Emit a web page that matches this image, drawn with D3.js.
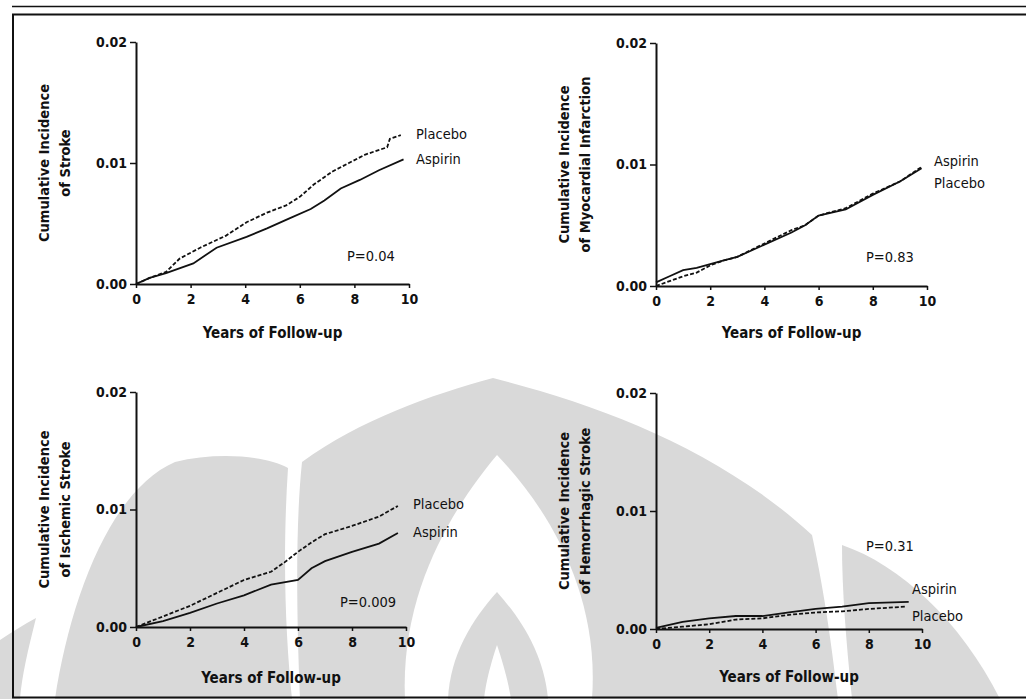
<!DOCTYPE html>
<html>
<head>
<meta charset="utf-8">
<script src="https://cdn.jsdelivr.net/npm/d3@7.9.0/dist/d3.min.js"></script>
<style>
  html, body { margin: 0; padding: 0; background: #fff; }
  svg { display: block; }
  text { font-family: "DejaVu Sans Condensed", "Liberation Sans", sans-serif; fill: #111; }
  .tick text { font-size: 14px; font-weight: bold; }
  .axis-title { font-size: 15px; font-weight: bold; }
  .y-title { font-size: 14.5px; font-weight: bold; }
  .series-label, .p-label { font-size: 14.5px; }
</style>
</head>
<body>
<svg id="chart" width="1026" height="699"></svg>
<script>
// ---- data (years, cumulative incidence) ----
const strokePlacebo = [[0,0],[0.5,0.0005],[1.1,0.0010],[1.6,0.0021],[2.35,0.0030],[3.3,0.0040],[4.05,0.0051],[4.8,0.0059],[5.5,0.0065],[6.0,0.0072],[6.5,0.0082],[7.2,0.0093],[7.8,0.0100],[8.4,0.0107],[9.2,0.0113],[9.3,0.0120],[9.7,0.0123]];
const strokeAspirin = [[0,0],[0.5,0.0005],[1.1,0.0009],[2.1,0.0017],[2.95,0.0030],[4.05,0.0039],[4.8,0.0046],[5.6,0.0054],[6.4,0.0062],[6.9,0.0069],[7.5,0.0079],[8.2,0.0086],[8.9,0.0094],[9.8,0.0103]];

const miAspirin = [[0,0.0003],[0.5,0.0008],[1,0.0013],[1.5,0.0015],[2,0.0018],[2.5,0.0021],[3,0.0024],[4,0.0034],[5,0.0044],[5.5,0.0050],[6,0.0058],[7,0.0063],[8,0.0075],[9,0.0086],[9.8,0.0097]];
const miPlacebo = [[0,0],[0.5,0.0004],[1,0.0008],[1.5,0.0011],[2,0.0017],[2.5,0.0021],[3,0.0024],[4,0.0035],[5,0.0046],[5.5,0.0050],[6,0.0058],[7,0.0064],[8,0.0076],[9,0.0086],[9.8,0.0098]];

const ischPlacebo = [[0,0],[1,0.0009],[2,0.0018],[3,0.0029],[4,0.0040],[5,0.0047],[5.5,0.0055],[6,0.0064],[6.5,0.0072],[7,0.0079],[8,0.0086],[9,0.0094],[9.7,0.0103]];
const ischAspirin = [[0,0],[1,0.0005],[2,0.0012],[3,0.0020],[4,0.0027],[5,0.0036],[6,0.0040],[6.5,0.0050],[7,0.0056],[8,0.0064],[9,0.0071],[9.7,0.0080]];

const hemAspirin = [[0,0.0001],[1,0.0006],[2,0.0009],[3,0.0011],[4,0.0011],[5,0.0014],[6,0.0017],[7,0.0019],[8,0.0022],[9.5,0.0023]];
const hemPlacebo = [[0,0],[1,0.0002],[2,0.0004],[3,0.0008],[4,0.0009],[5,0.0012],[6,0.0014],[7,0.0015],[8,0.0017],[9.4,0.0019]];

const xTicks = [0, 2, 4, 6, 8, 10];
const yTicks = [0, 0.01, 0.02];
const yTickLabels = ['0.00', '0.01', '0.02'];
const xTitle = 'Years of Follow-up';

const yTitles = [
  ['Cumulative Incidence', 'of Stroke'],
  ['Cumulative Incidence', 'of Myocardial Infarction'],
  ['Cumulative Incidence', 'of Ischemic Stroke'],
  ['Cumulative Incidence', 'of Hemorrhagic Stroke']
];
const pValues = ['P=0.04', 'P=0.83', 'P=0.009', 'P=0.31'];

// layout of the four panels (pixel boxes, label spots)
const panels = [
  { x0: 136, x1: 409, y0: 284, y1: 42, placebo: strokePlacebo, aspirin: strokeAspirin,
    labels: [['Placebo', 416, 135], ['Aspirin', 416, 160]], p: [347, 257], titleY: 333 },
  { x0: 656, x1: 927, y0: 286, y1: 43, placebo: miPlacebo, aspirin: miAspirin,
    labels: [['Aspirin', 934, 162], ['Placebo', 934, 184]], p: [866, 258], titleY: 333 },
  { x0: 136, x1: 406, y0: 627, y1: 392, placebo: ischPlacebo, aspirin: ischAspirin,
    labels: [['Placebo', 413, 505], ['Aspirin', 413, 533]], p: [340, 603], titleY: 678 },
  { x0: 656, x1: 922, y0: 629, y1: 393, placebo: hemPlacebo, aspirin: hemAspirin,
    labels: [['Aspirin', 912, 590], ['Placebo', 912, 617]], p: [866, 547], titleY: 677 }
];

const svg = d3.select('#chart');

// light grey watermark behind the plots (scanned page background)
function drawWatermark() {
  const grey = '#d9d9d9';
  const wm = svg.append('g');
  const layers = [
    // left leaf
    [grey, 'M 55,699 C 70,600 110,490 175,462 C 215,452 265,455 288,468 C 282,560 286,640 292,699 Z'],
    // big central dome
    [grey, 'M 300,699 C 296,600 296,520 302,462 C 360,420 430,395 493,378 C 600,405 720,450 812,535 C 826,600 832,650 838,699 Z'],
    // right leaf
    [grey, 'M 852,699 C 846,640 842,590 842,545 C 900,565 960,620 1000,699 Z'],
    // far-left sliver
    [grey, 'M 0,640 C 12,632 25,624 36,618 C 28,650 22,675 20,699 L 0,699 Z'],
    // white flame inside the dome
    ['#fff', 'M 405,699 C 400,590 455,505 497,455 C 545,505 600,590 592,699 Z'],
    // inner grey petal near the bottom
    [grey, 'M 448,699 C 450,655 472,620 497,592 C 522,620 544,655 548,699 Z'],
    // white slit in the inner petal
    ['#fff', 'M 484,699 C 486,680 492,660 497,645 C 502,660 508,680 511,699 Z']
  ];
  layers.forEach(([fill, d]) => wm.append('path').attr('d', d).attr('fill', fill));
}
drawWatermark();

// page frame
const frame = svg.append('g').attr('stroke', '#111').attr('fill', 'none');
frame.append('line').attr('x1', 12).attr('x2', 1026).attr('y1', 6.5).attr('y2', 6.5).attr('stroke-width', 1.5);
frame.append('line').attr('x1', 12).attr('x2', 1026).attr('y1', 14.5).attr('y2', 14.5).attr('stroke-width', 2);
frame.append('line').attr('x1', 13).attr('x2', 13).attr('y1', 14).attr('y2', 698).attr('stroke-width', 2);
frame.append('line').attr('x1', 12).attr('x2', 1026).attr('y1', 697.5).attr('y2', 697.5).attr('stroke-width', 2);

panels.forEach((p, i) => {
  const x = d3.scaleLinear().domain([0, 10]).range([p.x0, p.x1]);
  const y = d3.scaleLinear().domain([0, 0.02]).range([p.y0, p.y1]);
  const g = svg.append('g');

  const line = d3.line().x(d => x(d[0])).y(d => y(d[1]));

  g.append('path')
    .datum(p.aspirin)
    .attr('d', line)
    .attr('fill', 'none')
    .attr('stroke', '#111')
    .attr('stroke-width', 1.8);

  g.append('path')
    .datum(p.placebo)
    .attr('d', line)
    .attr('fill', 'none')
    .attr('stroke', '#111')
    .attr('stroke-width', 1.8)
    .attr('stroke-dasharray', '4,2');

  // axes
  const xAxis = g.append('g')
    .attr('transform', `translate(0,${p.y0})`)
    .call(d3.axisBottom(x).tickValues(xTicks).tickSize(4).tickSizeOuter(0).tickPadding(6));
  const yAxis = g.append('g')
    .attr('transform', `translate(${p.x0},0)`)
    .call(d3.axisLeft(y).tickValues(yTicks).tickFormat((d, k) => yTickLabels[k]).tickSize(6).tickSizeOuter(0).tickPadding(3));

  [xAxis, yAxis].forEach(a => {
    a.select('.domain').attr('stroke', '#111').attr('stroke-width', 2);
    a.selectAll('.tick line').attr('stroke', '#111').attr('stroke-width', 1.5);
    a.selectAll('.tick text').attr('fill', '#111');
  });

  // axis titles
  g.append('text')
    .attr('class', 'axis-title')
    .attr('x', (p.x0 + p.x1) / 2)
    .attr('y', p.titleY)
    .attr('text-anchor', 'middle')
    .attr('dominant-baseline', 'middle')
    .text(xTitle);

  const yt = g.append('text')
    .attr('class', 'y-title')
    .attr('transform', `translate(${p.x0 - 81},${(p.y0 + p.y1) / 2}) rotate(-90)`)
    .attr('text-anchor', 'middle');
  yTitles[i].forEach((t, k) => {
    yt.append('tspan').attr('x', 0).attr('y', k === 0 ? -6 : 15).text(t);
  });

  // end-of-curve labels and P value
  p.labels.forEach(([t, lx, ly]) => {
    g.append('text')
      .attr('class', 'series-label')
      .attr('x', lx)
      .attr('y', ly)
      .attr('dominant-baseline', 'middle')
      .text(t);
  });
  g.append('text')
    .attr('class', 'p-label')
    .attr('x', p.p[0])
    .attr('y', p.p[1])
    .attr('dominant-baseline', 'middle')
    .text(pValues[i]);
});
</script>
</body>
</html>
